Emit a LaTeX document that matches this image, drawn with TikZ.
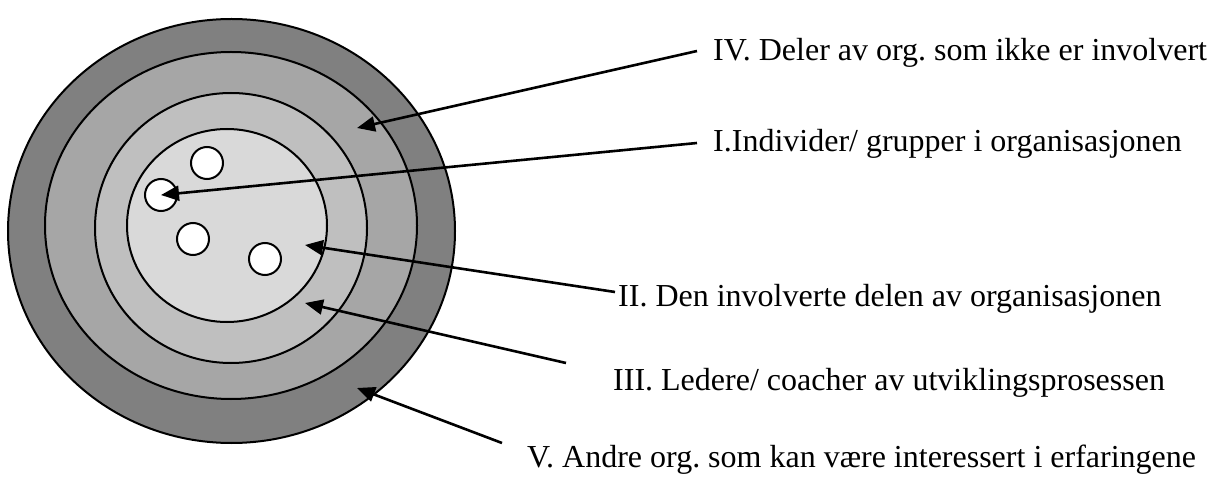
\documentclass[tikz,border=0pt]{standalone}
\usepackage{fontspec}
\setmainfont{Liberation Serif}
\usetikzlibrary{arrows.meta}
\frenchspacing
\begin{document}
\begin{tikzpicture}[x=1pt,y=-1pt,
  ring/.style={draw=black,line width=2pt},
  dot/.style={circle,draw=black,line width=2pt,fill=white,minimum size=32pt,inner sep=0pt},
  lbl/.style={anchor=base west,inner sep=0pt,font=\fontsize{32}{38}\selectfont},
  pointer/.style={line width=2.6pt,-{Triangle[length=18pt,width=15pt]}}]
\useasboundingbox (0,0) rectangle (1218,478);
\fill[white] (0,0) rectangle (1218,478);
% rings
\filldraw[ring,fill=black!50] (231.5,231) ellipse [x radius=223.5,y radius=212];
\filldraw[ring,fill=black!35] (231,225.5) ellipse [x radius=186,y radius=173.5];
\filldraw[ring,fill=black!25] (231,228) ellipse [x radius=136,y radius=135];
\filldraw[ring,fill=black!15] (227,225.5) ellipse [x radius=100,y radius=96.5];
% small circles
\node[dot] (c1) at (207,163) {};
\node[dot] (c2) at (161,195) {};
\node[dot] (c3) at (193,239) {};
\node[dot] (c4) at (265,259) {};
% labels
\node[lbl] (t4) at (713,61) {IV. Deler av org. som ikke er involvert};
\node[lbl] (t1) at (713,152) {I.Individer/ grupper i organisasjonen};
\node[lbl] (t2) at (618,307) {II. Den involverte delen av organisasjonen};
\node[lbl] (t3) at (613,390) {III. Ledere/ coacher av utviklingsprosessen};
\node[lbl] (t5) at (527,467) {V. Andre org. som kan være interessert i erfaringene};
% connector ends
\coordinate (s4) at (697,51);
\coordinate (s1) at (697,143);
\coordinate (s2) at (615,292);
\coordinate (s3) at (566,363);
\coordinate (s5) at (502,443);
\coordinate (e4) at (357,128);
\coordinate (e2) at (305,245);
\coordinate (e3) at (305,303);
\coordinate (e5) at (357,388);
\draw[pointer] (s4) -- (e4);
\draw[pointer] (s1) -- (c2.center);
\draw[pointer] (s2) -- (e2);
\draw[pointer] (s3) -- (e3);
\draw[pointer] (s5) -- (e5);
\end{tikzpicture}
\end{document}
